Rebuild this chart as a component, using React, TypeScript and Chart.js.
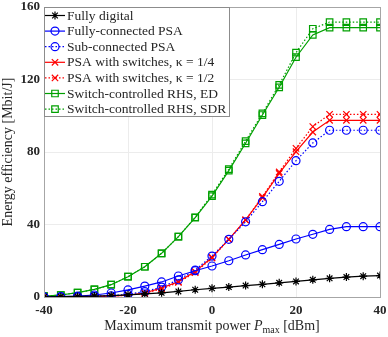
import React, { useEffect, useRef } from 'react';
import { Chart, registerables } from 'chart.js';
import { drawPoint } from 'chart.js/helpers';

Chart.register(...registerables);

const powerDbm = [-40, -36, -32, -28, -24, -20, -16, -12, -8, -4, 0, 4, 8, 12, 16, 20, 24, 28, 32, 36, 40];
const fullyDigital = [0.1, 0.2, 0.3, 0.5, 0.8, 1.2, 1.7, 2.3, 3.1, 4.0, 4.8, 5.5, 6.3, 7.0, 7.8, 8.6, 9.5, 10.3, 11.0, 11.5, 11.8];
const fullyConnected = [0.1, 0.2, 0.5, 1.1, 2.2, 3.9, 6.0, 8.3, 11.6, 14.5, 17.1, 20.0, 23.2, 26.1, 29.0, 32.0, 34.6, 37.3, 38.8, 38.8, 38.8];
const subConnected = [0.0, 0.1, 0.1, 0.3, 0.7, 1.5, 3.0, 5.5, 9.5, 14.9, 22.6, 31.8, 41.5, 52.6, 63.8, 75.2, 85.0, 92.0, 92.0, 92.0, 92.0];
const psaQuarter = [0.0, 0.0, 0.1, 0.2, 0.5, 1.0, 2.2, 5.0, 8.5, 14.0, 21.9, 31.8, 42.5, 54.8, 68.2, 80.2, 91.0, 97.5, 97.5, 97.5, 97.5];
const psaHalf = [0.0, 0.0, 0.1, 0.2, 0.5, 1.0, 2.0, 4.5, 8.0, 13.5, 21.5, 31.8, 42.5, 55.5, 69.0, 82.0, 94.0, 100.8, 100.8, 100.8, 100.8];
const rhsEd = [0.5, 1.1, 2.4, 4.2, 6.8, 11.2, 16.7, 24.1, 33.3, 43.8, 55.7, 69.7, 84.8, 100.4, 115.7, 132.3, 144.6, 148.6, 148.6, 148.6, 148.6];
const rhsSdr = [0.5, 1.1, 2.4, 4.2, 6.8, 11.2, 16.7, 24.1, 33.3, 44.0, 56.5, 70.5, 86.0, 101.3, 117.0, 134.8, 148.0, 151.7, 151.7, 151.7, 151.7];

const seriesLabels = [
  'Fully digital',
  'Fully-connected PSA',
  'Sub-connected PSA',
  'PSA with switches, \u03BA = 1/4',
  'PSA with switches, \u03BA = 1/2',
  'Switch-controlled RHS, ED',
  'Switch-controlled RHS, SDR',
];
const xTicks = [-40, -20, 0, 20, 40];
const yTicks = [0, 40, 80, 120, 160];

const SERIF = "'Liberation Serif', 'DejaVu Serif', serif";
const TEXT = '#262626';
const BLUE = '#0000ff';
const RED = '#ff0000';
const GREEN = '#00a000';
const DOT = [1.5, 2];

const boxLegend = {
  id: 'boxLegend',
  afterDraw(chart: any) {
    const ctx = chart.ctx;
    const a = chart.chartArea;
    ctx.save();
    // axes box
    ctx.strokeStyle = '#a6a6a6';
    ctx.lineWidth = 1;
    ctx.strokeRect(Math.round(a.left) + 0.5, Math.round(a.top) + 0.5, Math.round(a.right - a.left), Math.round(a.bottom - a.top));
    // legend box
    const x0 = Math.round(a.left) + 0.5;
    const y0 = Math.round(a.top) + 0.5;
    const w = 185;
    const h = 109;
    ctx.fillStyle = '#ffffff';
    ctx.fillRect(x0, y0, w, h);
    ctx.strokeStyle = '#8c8c8c';
    ctx.strokeRect(x0, y0, w, h);
    chart.data.datasets.forEach((ds: any, i: number) => {
      const y = a.top + 8.5 + i * 15.6;
      ctx.save();
      ctx.strokeStyle = ds.borderColor;
      ctx.lineWidth = ds.borderWidth;
      ctx.setLineDash(ds.borderDash || []);
      ctx.beginPath();
      ctx.moveTo(a.left + 1, y);
      ctx.lineTo(a.left + 21, y);
      ctx.stroke();
      ctx.setLineDash([]);
      ctx.strokeStyle = ds.pointBorderColor;
      ctx.fillStyle = 'rgba(0,0,0,0)';
      ctx.lineWidth = ds.pointBorderWidth;
      drawPoint(ctx, { pointStyle: ds.pointStyle, radius: ds.pointRadius, rotation: 0, borderWidth: ds.pointBorderWidth }, a.left + 11, y);
      ctx.restore();
      ctx.fillStyle = TEXT;
      ctx.font = `13.5px ${SERIF}`;
      ctx.textBaseline = 'middle';
      ctx.textAlign = 'left';
      ctx.fillText(ds.label, a.left + 23, y + 0.5);
    });
    // x axis title with subscript
    const parts: [string, string, number][] = [
      ['Maximum transmit power ', `14px ${SERIF}`, 0],
      ['P', `italic 14px ${SERIF}`, 0],
      ['max', `10px ${SERIF}`, 3],
      [' [dBm]', `14px ${SERIF}`, 0],
    ];
    let total = 0;
    parts.forEach(([t, f]) => { ctx.font = f; total += ctx.measureText(t).width; });
    let x = (a.left + a.right) / 2 - total / 2;
    const base = 330;
    ctx.fillStyle = TEXT;
    ctx.textBaseline = 'alphabetic';
    parts.forEach(([t, f, dy]) => {
      ctx.font = f;
      ctx.fillText(t, x, base + dy);
      x += ctx.measureText(t).width;
    });
    ctx.restore();
  },
};

function mk(label: string, data: number[], color: string, style: string, radius: number, dash?: number[]) {
  return {
    label,
    data: powerDbm.map((p, i) => ({ x: p, y: data[i] })),
    borderColor: color,
    backgroundColor: 'rgba(0,0,0,0)',
    pointBorderColor: color,
    pointBackgroundColor: 'rgba(0,0,0,0)',
    pointStyle: style,
    pointRadius: radius,
    pointBorderWidth: 1.2,
    borderWidth: 1.2,
    borderDash: dash || [],
    tension: 0,
    fill: false,
  };
}

export default function App() {
  const ref = useRef<HTMLCanvasElement>(null);
  useEffect(() => {
    if (!ref.current) return;
    const chart = new Chart(ref.current, {
      type: 'line',
      data: {
        datasets: [
          mk(seriesLabels[0], fullyDigital, '#000000', 'star', 4),
          mk(seriesLabels[1], fullyConnected, BLUE, 'circle', 4),
          mk(seriesLabels[2], subConnected, BLUE, 'circle', 4, DOT),
          mk(seriesLabels[3], psaQuarter, RED, 'crossRot', 4.5),
          mk(seriesLabels[4], psaHalf, RED, 'crossRot', 4.5, DOT),
          mk(seriesLabels[5], rhsEd, GREEN, 'rect', 4.6),
          mk(seriesLabels[6], rhsSdr, GREEN, 'rect', 4.6, DOT),
        ] as any,
      },
      options: {
        animation: false,
        responsive: false,
        layout: { padding: { top: 7, right: 8, left: 0, bottom: 0 } },
        plugins: { legend: { display: false }, tooltip: { enabled: false } },
        scales: {
          x: {
            type: 'linear',
            min: -40,
            max: 40,
            afterFit: (s: any) => { s.height = 40; s.paddingLeft = 0; s.paddingRight = 0; },
            afterBuildTicks: (s: any) => { s.ticks = xTicks.map((v) => ({ value: v })); },
            ticks: { color: TEXT, font: { family: SERIF, size: 13, weight: 'bold' }, padding: 6, maxRotation: 0 },
            grid: { color: '#ececec', drawTicks: false },
            border: { color: '#a6a6a6' },
          },
          y: {
            type: 'linear',
            min: 0,
            max: 160,
            afterFit: (s: any) => { s.width = 44; s.paddingTop = 0; s.paddingBottom = 0; },
            afterBuildTicks: (s: any) => { s.ticks = yTicks.map((v) => ({ value: v })); },
            ticks: { color: TEXT, font: { family: SERIF, size: 13, weight: 'bold' }, padding: 4 },
            grid: { color: '#ececec', drawTicks: false },
            border: { color: '#a6a6a6' },
            title: { display: true, text: 'Energy efficiency [Mbit/J]', color: TEXT, font: { family: SERIF, size: 14 }, padding: 0 },
          },
        },
      } as any,
      plugins: [boxLegend],
    });
    return () => chart.destroy();
  }, []);
  return (
    <div style={{ position: 'fixed', left: 0, top: 0, width: 388, height: 337, background: '#fff' }}>
      <canvas ref={ref} width={388} height={337} />
    </div>
  );
}
